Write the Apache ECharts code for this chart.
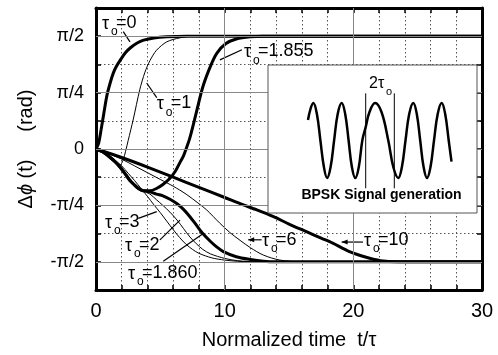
<!DOCTYPE html>
<html><head><meta charset="utf-8">
<script src="https://cdn.jsdelivr.net/npm/echarts@6/dist/echarts.min.js"></script>
<style>html,body{margin:0;padding:0;background:#fff}#c{width:498px;height:355px}</style>
</head><body><div id="c"></div>
<script>
// ---------- data (y in units of pi/4) ----------
const xTickLabels = [0, 10, 20, 30];
const yTickLabels = { '2': 'π/2', '1': 'π/4', '0': '0', '-1': '-π/4', '-2': '-π/2' };
const majorX = [10, 20];
const majorY = [-2, -1, 0, 1, 2];

const tau0 = [[0,0],[0.2,0.1],[0.4,0.35],[0.6,0.62],[0.85,0.95],[1.1,1.17],[1.35,1.35],[1.6,1.47],[1.9,1.58],[2.3,1.71],[2.7,1.8],[3.2,1.88],[3.7,1.93],[4.5,1.97],[5.5,1.99],[7,2],[30,2]];
const tau1 = [[0,0],[0.5,-0.04],[1,-0.12],[1.5,-0.23],[1.85,-0.29],[2.1,-0.2],[2.3,-0.04],[2.5,0.15],[2.9,0.53],[3.4,1.05],[3.8,1.36],[4.2,1.57],[4.7,1.75],[5.5,1.9],[6.5,1.97],[7.5,2],[30,2]];
const tau1855 = [[0,0],[0.5,-0.05],[1.1,-0.15],[1.5,-0.23],[1.86,-0.32],[2.3,-0.45],[2.64,-0.56],[3.0,-0.64],[3.3,-0.7],[3.68,-0.74],[4.2,-0.74],[4.7,-0.7],[5.2,-0.63],[5.75,-0.52],[6.2,-0.38],[6.5,-0.25],[6.8,-0.12],[7.05,0.03],[7.3,0.2],[7.8,0.65],[8.3,1.1],[8.9,1.47],[9.4,1.7],[10.1,1.87],[10.9,1.95],[12,1.99],[13,2],[30,2]];
const tau1860 = [[0,0],[0.5,-0.05],[1.1,-0.15],[1.5,-0.23],[1.86,-0.32],[2.3,-0.45],[2.64,-0.56],[3.0,-0.64],[3.3,-0.7],[3.68,-0.74],[4.2,-0.76],[4.7,-0.8],[5.2,-0.83],[5.75,-0.89],[6.3,-0.97],[6.8,-1.07],[7.3,-1.2],[7.8,-1.35],[8.3,-1.5],[8.9,-1.64],[9.4,-1.74],[9.9,-1.82],[10.9,-1.91],[12,-1.96],[13,-1.99],[14,-2],[30,-2]];
const tau2 = [[0,0],[0.5,-0.05],[1.1,-0.15],[1.5,-0.23],[1.86,-0.32],[2.3,-0.45],[2.64,-0.56],[3.0,-0.64],[3.3,-0.7],[3.68,-0.74],[4.2,-0.8],[4.7,-0.9],[5.2,-1.0],[5.75,-1.12],[6.3,-1.26],[6.8,-1.41],[7.3,-1.56],[7.8,-1.68],[8.3,-1.78],[8.9,-1.86],[10,-1.94],[11,-1.98],[12.5,-2],[30,-2]];
const tau3 = [[0,0],[0.5,-0.04],[1,-0.11],[1.5,-0.2],[2,-0.3],[2.5,-0.43],[3,-0.56],[3.5,-0.7],[4,-0.84],[4.5,-0.99],[5,-1.13],[5.5,-1.28],[6,-1.43],[6.5,-1.57],[7,-1.69],[7.5,-1.78],[8,-1.85],[9,-1.93],[10,-1.97],[11,-1.99],[12,-2],[30,-2]];
const tau6 = [[0,0],[1,-0.08],[2,-0.18],[3,-0.3],[4,-0.42],[5,-0.54],[6,-0.66],[7,-0.8],[8,-0.97],[8.6,-1.08],[9.6,-1.31],[10.4,-1.48],[11.2,-1.62],[12,-1.75],[13,-1.88],[14.3,-1.97],[16,-2],[30,-2]];
const tau10 = [[0,0],[2,-0.15],[4,-0.32],[6,-0.5],[8,-0.68],[10,-0.86],[11.2,-0.97],[12.5,-1.08],[13.8,-1.2],[15,-1.33],[16.4,-1.47],[17.5,-1.58],[18.4,-1.67],[19.7,-1.82],[21,-1.92],[22.1,-1.98],[23.5,-2],[30,-2]];

const curveNames = ['τo=0','τo=1','τo=1.855','τo=1.860','τo=2','τo=3','τo=6','τo=10'];
const curveData = [tau0, tau1, tau1855, tau1860, tau2, tau3, tau6, tau10];
const curveThick = [true, false, true, true, false, false, false, true];

// annotations (data coords)
const annoText = ['0','1','1.855','3','2','1.860','6','10'];
const annoAnchor = [[0.47,2.24],[4.72,0.81],[11.5,1.73],[0.70,-1.29],[2.25,-1.70],[2.49,-2.20],[12.9,-1.61],[20.82,-1.61]];
const annoLeader = [[[2.12,2.08],[2.64,1.90]],[[4.72,0.91],[3.94,1.17]],[[9.63,1.58],[11.34,1.76]],[[3.29,-1.23],[4.72,-1.11]],[[4.97,-1.61],[6.53,-1.26]],[[5.23,-1.99],[8.34,-1.50]],[[12.87,-1.61],[11.83,-1.61]],[[20.75,-1.65],[19.09,-1.65]]];
const annoArrow = [false,false,false,false,false,false,true,true];

// inset illustration (coordinates in inset units)
const insetWave = [[40,93],[42.5,104],[45.3,110],[48.9,99],[52.4,72.5],[55.9,46],[59.1,35],[62.6,46],[66.1,72.5],[69.7,99],[73.7,110],[77.2,99],[80.6,72.5],[83.9,46],[87.3,35],[90.8,46],[94.3,72.5],[97.7,86],[101.5,101],[107,110],[113.5,101],[120.3,72.5],[125.3,46],[130.3,35],[133.9,46],[137.5,72.5],[141.2,99],[145.3,110],[148.8,99],[152.2,72.5],[155.6,46],[159,35],[162.5,46],[166,72.5],[169.7,99],[173.7,110],[177.2,99],[180.7,72.5],[183.5,51.3]];
const insetMarkerA = [[97.7,24.7],[97.7,119.7]];
const insetMarkerB = [[126.3,24.7],[126.3,119.7]];
const insetBracket = [[97.7,115.3],[126.3,115.3]];
const insetTextPos = [[101,129],[113.5,18]];

// ---------- chart ----------
const FONT = '"Liberation Sans", Arial, Helvetica, sans-serif';
const chart = echarts.init(document.getElementById('c'), null, { renderer: 'canvas' });
const INSET = { left: 268, top: 65, width: 209, height: 148 };

function txt(x, y, s, size, opts) {
  return Object.assign({
    type: 'text', x: x, y: y,
    style: { text: s, font: size + 'px ' + FONT, fill: '#000',
      align: 'left', verticalAlign: 'middle', textAlign: 'left', textVerticalAlign: 'middle' }
  }, opts || {});
}

function renderAnno(params, api) {
  const i = params.dataIndex;
  const p = api.coord(annoAnchor[i]);
  const a = api.coord(annoLeader[i][0]);
  const b = api.coord(annoLeader[i][1]);
  const ch = [];
  ch.push({ type: 'line', shape: { x1: a[0], y1: a[1], x2: b[0], y2: b[1] }, style: { stroke: '#000', lineWidth: 1.2 } });
  if (annoArrow[i]) {
    ch.push({ type: 'polygon', shape: { points: [[b[0], b[1]], [b[0] + 6, b[1] - 2.5], [b[0] + 6, b[1] + 2.5]] }, style: { fill: '#000' } });
  }
  ch.push(txt(p[0], p[1] + 1, 'τ', 18));
  ch.push(txt(p[0] + 9, p[1] + 9, 'o', 12));
  ch.push(txt(p[0] + 14, p[1], '=' + annoText[i], 18));
  return { type: 'group', children: ch };
}

function renderInsetText(params, api) {
  const i = params.dataIndex;
  const p = api.coord(insetTextPos[i]);
  if (i === 0) {
    return { type: 'group', children: [ txt(p[0], p[1], '2τ', 16), txt(p[0] + 17, p[1] + 8, 'o', 11) ] };
  }
  const t = txt(p[0], p[1], 'BPSK Signal generation', 14);
  t.style.font = 'bold 14px ' + FONT;
  t.style.align = 'center'; t.style.textAlign = 'center';
  return t;
}

const mainX = (pos, showLabel) => ({
  gridIndex: 0, type: 'value', min: 0, max: 30, interval: 2, position: pos,
  axisLine: { show: true, onZero: false, lineStyle: { color: '#000', width: 3 } },
  axisTick: { show: true, inside: true, length: 5, lineStyle: { color: '#000', width: 1.5 } },
  axisLabel: { show: showLabel, formatter: v => xTickLabels.includes(v) ? String(v) : '', fontSize: 20, color: '#000', fontFamily: FONT, margin: 11 },
  splitLine: { show: showLabel, lineStyle: { type: [1.5, 2.5], color: '#555', width: 1 } }
});
const mainY = (pos, showLabel) => ({
  gridIndex: 0, type: 'value', min: -2.5, max: 2.5, interval: 0.5, position: pos,
  axisLine: { show: true, onZero: false, lineStyle: { color: '#000', width: 3 } },
  axisTick: { show: true, inside: true, length: 5, lineStyle: { color: '#000', width: 1.5 } },
  axisLabel: { show: showLabel, formatter: v => yTickLabels[String(v)] || '', fontSize: 18, color: '#000', fontFamily: FONT, margin: 12 },
  splitLine: { show: showLabel, lineStyle: { type: [1.5, 2.5], color: '#555', width: 1 } }
});

const xMain = mainX('bottom', true);
xMain.name = 'Normalized time  t/τ';
xMain.nameLocation = 'middle';
xMain.nameGap = 40;
xMain.nameTextStyle = { fontSize: 20, color: '#000', fontFamily: FONT };
const yMain = mainY('left', true);
yMain.name = '{n|Δ}{i|ϕ}{n| (t)     (rad)}';
yMain.nameLocation = 'middle';
yMain.nameGap = 60;
yMain.nameTextStyle = { fontSize: 20, color: '#000', fontFamily: FONT,
  rich: { n: { fontSize: 20, color: '#000', fontFamily: FONT }, i: { fontSize: 20, color: '#000', fontFamily: FONT, fontStyle: 'italic' } } };

const series = [];
series.push({
  type: 'line', xAxisIndex: 0, yAxisIndex: 0, data: [], z: 1, silent: true,
  markLine: { silent: true, symbol: 'none', animation: false, label: { show: false },
    lineStyle: { color: '#888', type: 'solid', width: 1 },
    data: majorY.map(v => ({ yAxis: v })).concat(majorX.map(v => ({ xAxis: v }))) }
});
curveData.forEach((d, k) => series.push({
  name: curveNames[k], type: 'line', xAxisIndex: 0, yAxisIndex: 0, data: d,
  symbol: 'none', smooth: 0.3, lineStyle: { color: '#000', width: curveThick[k] ? 3 : 1 }, z: 2, silent: true
}));
series.push({
  type: 'custom', xAxisIndex: 0, yAxisIndex: 0, data: annoAnchor, renderItem: renderAnno, z: 4, silent: true
});
// inset
series.push({ type: 'line', xAxisIndex: 2, yAxisIndex: 2, data: insetWave, symbol: 'none', smooth: 0.4,
  lineStyle: { color: '#000', width: 2.5 }, z: 11, silent: true });
series.push({ type: 'line', xAxisIndex: 2, yAxisIndex: 2, data: insetMarkerA, symbol: 'none',
  lineStyle: { color: '#000', width: 1 }, z: 11, silent: true });
series.push({ type: 'line', xAxisIndex: 2, yAxisIndex: 2, data: insetMarkerB, symbol: 'none',
  lineStyle: { color: '#000', width: 1 }, z: 11, silent: true,
  markLine: { silent: true, symbol: ['arrow', 'arrow'], symbolSize: [5, 6], label: { show: false }, animation: false,
    lineStyle: { color: '#000', width: 1, type: 'solid' },
    data: [[{ coord: insetBracket[0] }, { coord: insetBracket[1] }]] } });
series.push({ type: 'custom', xAxisIndex: 2, yAxisIndex: 2, data: insetTextPos, renderItem: renderInsetText, z: 12, silent: true });

chart.setOption({
  animation: false,
  backgroundColor: '#fff',
  grid: [
    { left: 96, right: 16, top: 8, bottom: 63, containLabel: false },
    { left: INSET.left, top: INSET.top, width: INSET.width, height: INSET.height, containLabel: false }
  ],
  xAxis: [xMain, mainX('top', false), { gridIndex: 1, type: 'value', min: 0, max: INSET.width, show: false }],
  yAxis: [yMain, mainY('right', false), { gridIndex: 1, type: 'value', min: 0, max: INSET.height, show: false }],
  graphic: [{
    type: 'rect', z: 10,
    shape: { x: INSET.left, y: INSET.top, width: INSET.width, height: INSET.height },
    style: { fill: '#fff', stroke: '#555', lineWidth: 1 }
  }],
  series: series
});
</script>
</body></html>
